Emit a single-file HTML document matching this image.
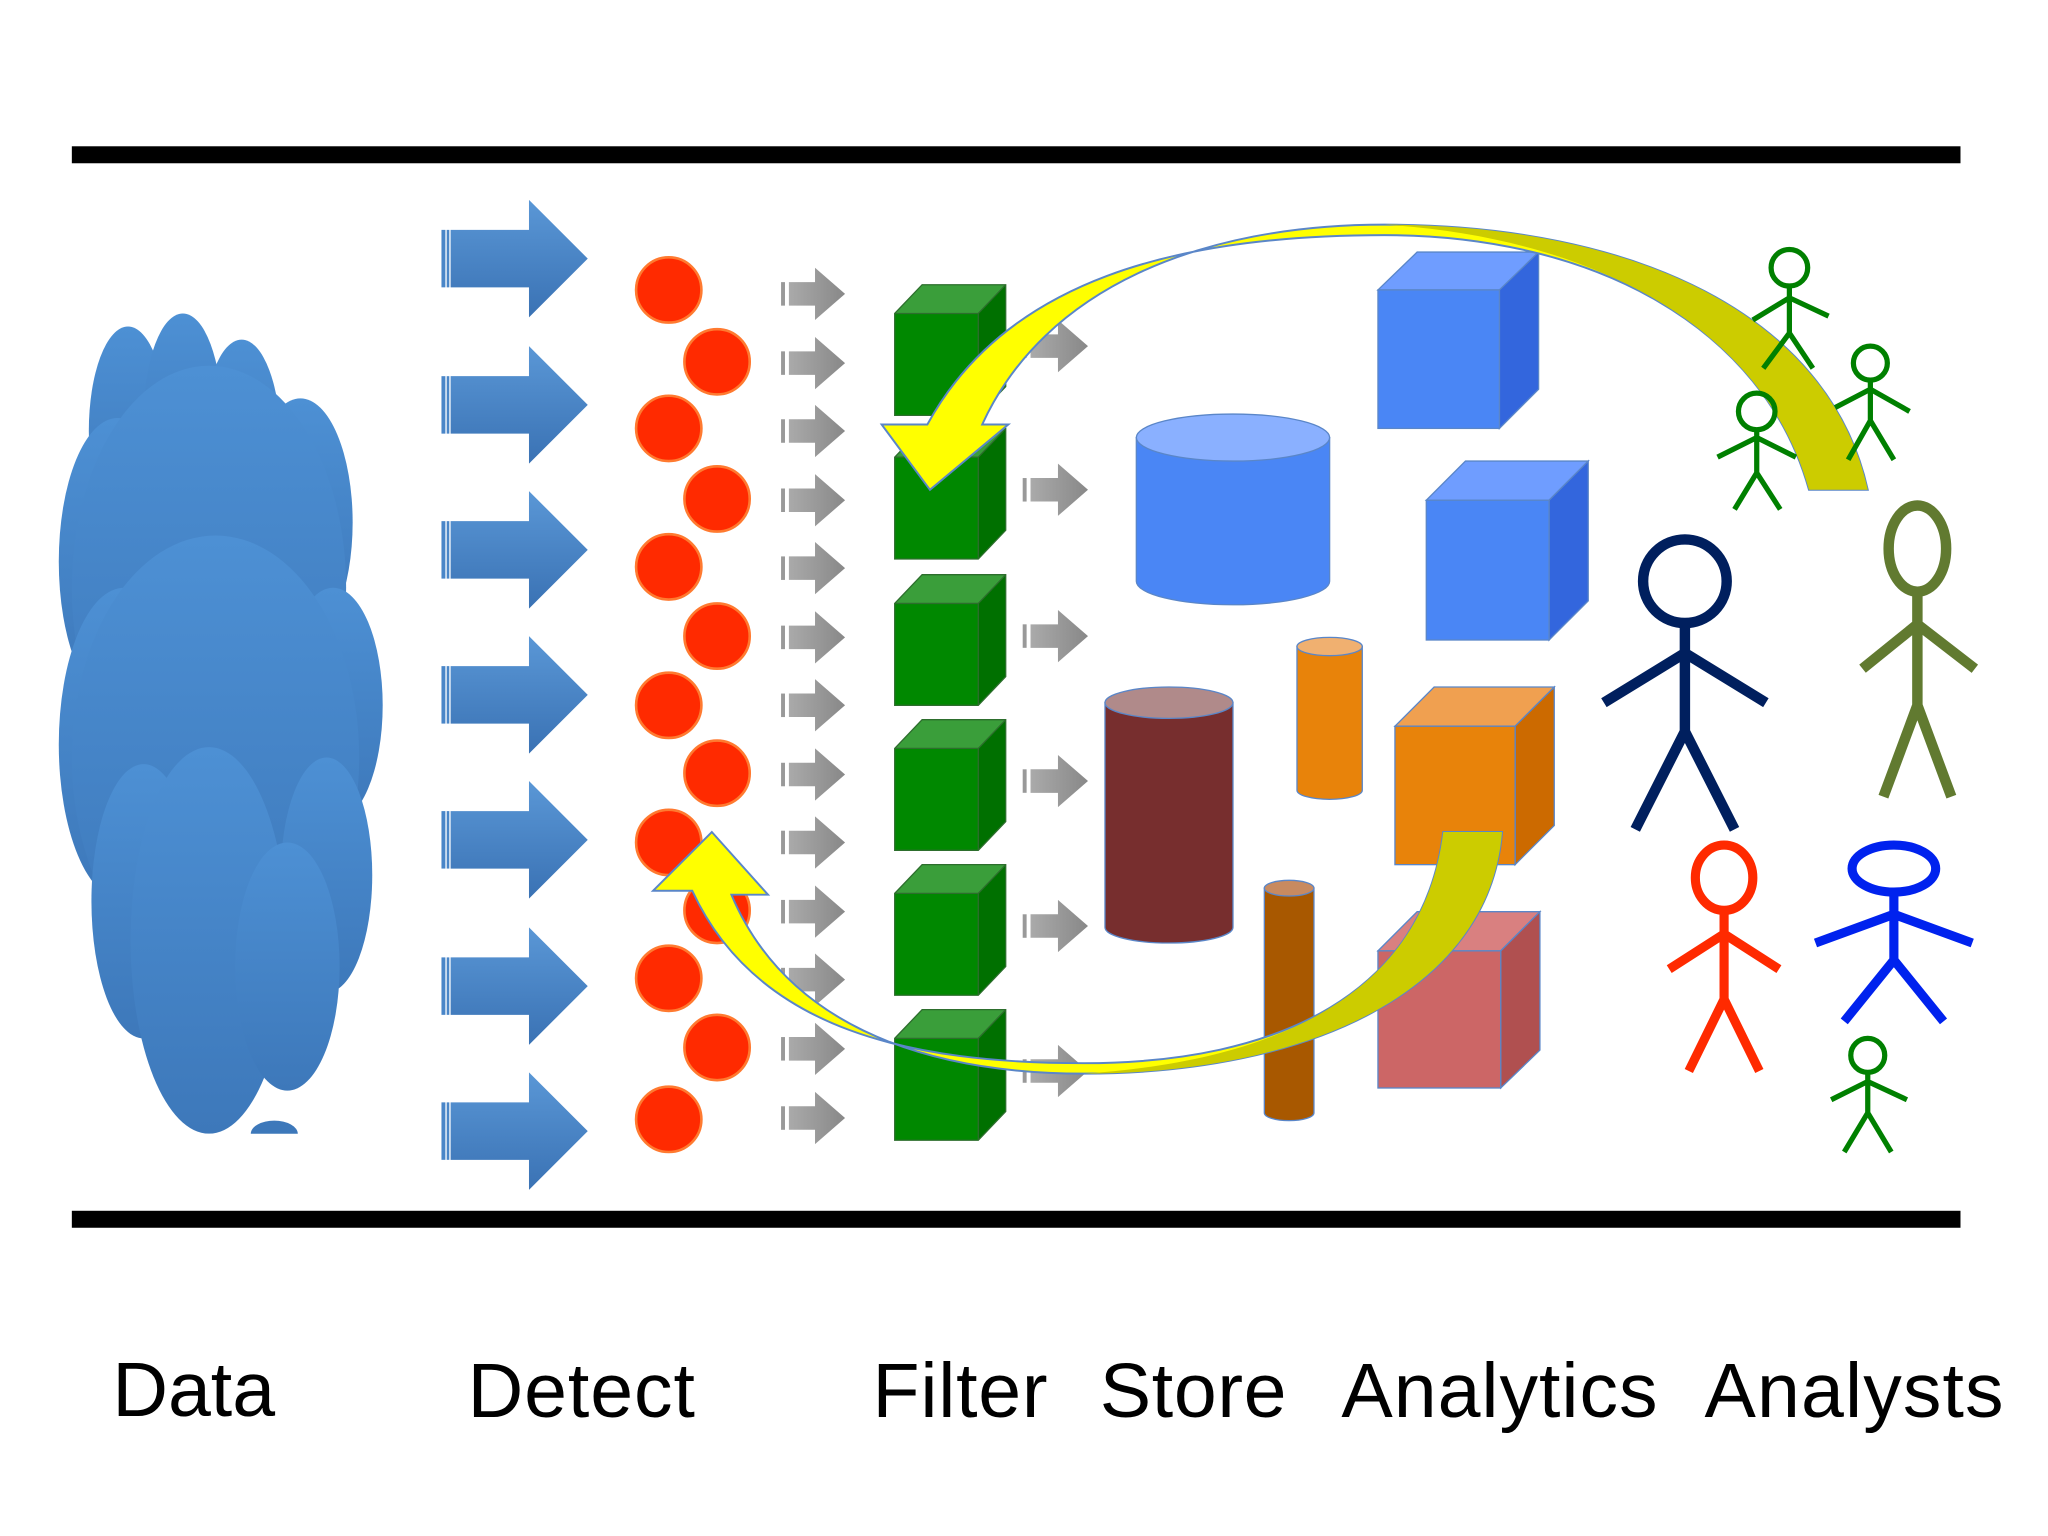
<!DOCTYPE html>
<html><head><meta charset="utf-8"><style>
html,body{margin:0;padding:0;background:#fff;}
svg{display:block;}
text{font-family:"Liberation Sans",sans-serif;}
</style></head><body>
<svg width="2048" height="1536" viewBox="0 0 1568 1176" xmlns="http://www.w3.org/2000/svg">
<defs>
<linearGradient id="ba" x1="0" y1="0" x2="0" y2="1"><stop offset="0" stop-color="#5a97d6"/><stop offset="1" stop-color="#3a72b4"/></linearGradient>
<linearGradient id="ga" x1="0" y1="0" x2="1" y2="0"><stop offset="0" stop-color="#aaa"/><stop offset="1" stop-color="#888"/></linearGradient>
<linearGradient id="cl" x1="0" y1="0" x2="0" y2="1"><stop offset="0" stop-color="#4d90d4"/><stop offset="1" stop-color="#3d78ba"/></linearGradient>
<g id="bar"><path d="M345 -22 H405 V-45 L450 0 L405 45 V22 H345 Z" fill="url(#ba)"/><rect x="338" y="-22" width="3" height="44" fill="#4a86c8"/><rect x="342" y="-22" width="2" height="44" fill="#4a86c8"/></g>
<g id="sa"><path d="M604 -9 H624 V-20 L647 0 L624 20 V9 H604 Z" fill="url(#ga)"/><rect x="598" y="-9" width="3" height="18" fill="#999"/></g>
<g id="sa2"><path d="M789 -9 H810 V-20 L833 0 L810 20 V9 H789 Z" fill="url(#ga)"/><rect x="783" y="-9" width="3" height="18" fill="#999"/></g>
<g id="gc"><path d="M685 22 L706 0 H770 L749 22 Z" fill="#3a9e3a"/><path d="M749 22 L770 0 V78 L749 100 Z" fill="#007000"/><rect x="685" y="22" width="64" height="78" fill="#008800"/><path d="M685 22 L706 0 H770 V78 L749 100 H685 Z M685 22 H749 V100 M749 22 L770 0" fill="none" stroke="#2d6e2d" stroke-width="1"/></g>
<circle id="rc" r="25" fill="#ff2a00" stroke="#ff7a30" stroke-width="2"/>
</defs>
<rect width="1568" height="1176" fill="#fff"/>
<!-- cloud -->
<g fill="url(#cl)">
<ellipse cx="98" cy="330" rx="30" ry="80"/><ellipse cx="140" cy="320" rx="30" ry="80"/><ellipse cx="185" cy="340" rx="30" ry="80"/>
<ellipse cx="230" cy="400" rx="40" ry="95"/><ellipse cx="90" cy="430" rx="45" ry="110"/><ellipse cx="160" cy="450" rx="105" ry="170"/>
<ellipse cx="255" cy="540" rx="38" ry="90"/><ellipse cx="95" cy="570" rx="50" ry="120"/><ellipse cx="165" cy="580" rx="110" ry="170"/>
<ellipse cx="250" cy="670" rx="35" ry="90"/><ellipse cx="110" cy="690" rx="40" ry="105"/><ellipse cx="160" cy="720" rx="60" ry="148"/><ellipse cx="220" cy="740" rx="40" ry="95"/>
</g>
<rect x="40" y="868" width="260" height="55" fill="#fff"/>
<path d="M192 868 A18 10 0 0 1 228 868 Z" fill="#3d78ba"/>
<rect x="55" y="112" width="1446" height="13" fill="#000"/>
<rect x="55" y="927" width="1446" height="13" fill="#000"/>
<!-- blue arrows -->
<use href="#bar" y="198"/><use href="#bar" y="310"/><use href="#bar" y="421"/><use href="#bar" y="532"/><use href="#bar" y="643"/><use href="#bar" y="755"/><use href="#bar" y="866"/>
<!-- red circles -->
<use href="#rc" x="512" y="222"/><use href="#rc" x="549" y="277"/><use href="#rc" x="512" y="328"/><use href="#rc" x="549" y="382"/><use href="#rc" x="512" y="434"/><use href="#rc" x="549" y="487"/><use href="#rc" x="512" y="540"/><use href="#rc" x="549" y="592"/><use href="#rc" x="512" y="645"/><use href="#rc" x="549" y="697"/><use href="#rc" x="512" y="749"/><use href="#rc" x="549" y="802"/><use href="#rc" x="512" y="857"/>
<!-- small arrows -->
<use href="#sa" y="225"/><use href="#sa" y="278"/><use href="#sa" y="330"/><use href="#sa" y="383"/><use href="#sa" y="435"/><use href="#sa" y="488"/><use href="#sa" y="540"/><use href="#sa" y="593"/><use href="#sa" y="645"/><use href="#sa" y="698"/><use href="#sa" y="750"/><use href="#sa" y="803"/><use href="#sa" y="856"/>
<!-- green cubes -->
<use href="#gc" y="218"/><use href="#gc" y="328"/><use href="#gc" y="440"/><use href="#gc" y="551"/><use href="#gc" y="662"/><use href="#gc" y="773"/>
<use href="#sa2" y="265"/><use href="#sa2" y="375"/><use href="#sa2" y="487"/><use href="#sa2" y="598"/><use href="#sa2" y="709"/><use href="#sa2" y="820"/>
<!-- blue cylinder -->
<path d="M870 335 V445 A74 18 0 0 0 1018 445 V335 Z" fill="#4a86f5" stroke="#5a86c8"/>
<ellipse cx="944" cy="335" rx="74" ry="18" fill="#8ab0ff" stroke="#5a86c8"/>
<!-- blue cubes -->
<g stroke="#5a86c8"><path d="M1055 222 L1085 193 H1178 L1148 222 Z" fill="#6f9dff"/><path d="M1148 222 L1178 193 V298 L1148 328 Z" fill="#3366dd"/><rect x="1055" y="222" width="93" height="106" fill="#4a86f5"/></g>
<g stroke="#5a86c8"><path d="M1092 383 L1122 353 H1216 L1186 383 Z" fill="#6f9dff"/><path d="M1186 383 L1216 353 V460 L1186 490 Z" fill="#3366dd"/><rect x="1092" y="383" width="94" height="107" fill="#4a86f5"/></g>
<!-- orange cylinder -->
<path d="M993 495 V605 A25 7 0 0 0 1043 605 V495 Z" fill="#e8830a" stroke="#5a86c8"/>
<ellipse cx="1018" cy="495" rx="25" ry="7" fill="#f0b070" stroke="#5a86c8"/>
<!-- brown cylinder -->
<path d="M846 538 V710 A49 12 0 0 0 944 710 V538 Z" fill="#772e2e" stroke="#5a86c8"/>
<ellipse cx="895" cy="538" rx="49" ry="12" fill="#b08a8a" stroke="#5a86c8"/>
<!-- orange cube -->
<g stroke="#5a86c8"><path d="M1068 556 L1098 526 H1190 L1160 556 Z" fill="#f0a050"/><path d="M1160 556 L1190 526 V632 L1160 662 Z" fill="#cc6a00"/><rect x="1068" y="556" width="92" height="106" fill="#e8830a"/></g>
<!-- thin brown cylinder -->
<path d="M968 680 V852 A19 6 0 0 0 1006 852 V680 Z" fill="#a85800" stroke="#5a86c8"/>
<ellipse cx="987" cy="680" rx="19" ry="6" fill="#c88a60" stroke="#5a86c8"/>
<!-- pink cube -->
<g stroke="#5a86c8"><path d="M1055 728 L1085 698 H1179 L1149 728 Z" fill="#d98080"/><path d="M1149 728 L1179 698 V804 L1149 833 Z" fill="#b05050"/><rect x="1055" y="728" width="94" height="105" fill="#cc6666"/></g>
<!-- yellow arrows -->
<path d="M1430 375 C1400 240 1250 172 1060 172 C920 172 800 220 752 325 L772 325 L712 375 L675 325 L710 325 C770 215 900 180 1060 180 C1220 180 1350 250 1385 375 Z" fill="#ffff00" stroke="#5a86c8" stroke-width="1.5"/>
<path d="M1150 637 C1140 760 1000 822 830 822 C700 822 600 780 560 685 L588 685 L545 637 L500 682 L530 682 C580 790 700 814 830 814 C980 814 1090 760 1105 637 Z" fill="#ffff00" stroke="#5a86c8" stroke-width="1.5"/>
<path d="M1430 375 C1400 240 1250 172 1060 172 C1220 182 1350 250 1385 375 Z" fill="#cccc00"/>
<path d="M1150 637 C1140 760 1000 822 830 822 C980 812 1090 760 1105 637 Z" fill="#cccc00"/>
<!-- stick figures -->
<g fill="none" stroke-width="4" stroke="#008000">
<circle cx="1370" cy="205" r="14"/><path d="M1370 219 V255 M1342 245 L1370 228 L1400 242 M1350 282 L1370 255 L1388 282"/>
<circle cx="1432" cy="278" r="13"/><path d="M1432 291 V322 M1405 312 L1432 298 L1462 315 M1415 352 L1432 322 L1450 352"/>
<circle cx="1345" cy="315" r="14"/><path d="M1345 329 V362 M1315 350 L1345 335 L1375 350 M1328 390 L1345 362 L1363 390"/>
<circle cx="1430" cy="808" r="13"/><path d="M1430 821 V852 M1402 842 L1430 828 L1460 842 M1412 882 L1430 852 L1448 882"/>
</g>
<g fill="none" stroke-width="8" stroke="#001f5e"><circle cx="1290" cy="445" r="32"/><path d="M1290 477 V560 M1228 538 L1290 500 L1352 538 M1252 635 L1290 560 L1328 635"/></g>
<g fill="none" stroke-width="8" stroke="#617a30"><ellipse cx="1468" cy="420" rx="22" ry="33"/><path d="M1468 453 V540 M1426 512 L1468 478 L1512 512 M1442 610 L1468 540 L1494 610"/></g>
<g fill="none" stroke-width="7" stroke="#ff2a00"><ellipse cx="1320" cy="672" rx="22" ry="25"/><path d="M1320 697 V765 M1278 742 L1320 715 L1362 742 M1293 820 L1320 765 L1347 820"/></g>
<g fill="none" stroke-width="7" stroke="#0022ee"><ellipse cx="1450" cy="665" rx="32" ry="18"/><path d="M1450 683 V735 M1390 722 L1450 700 L1510 722 M1412 782 L1450 735 L1488 782"/></g>
<!-- labels -->
<g font-size="59" fill="#000">
<text x="86" y="1084">Data</text>
<text x="358" y="1085" textLength="174">Detect</text>
<text x="668" y="1085" textLength="134">Filter</text>
<text x="842" y="1085" textLength="143">Store</text>
<text x="1027" y="1085" textLength="242">Analytics</text>
<text x="1305" y="1085" textLength="229">Analysts</text>
</g>
</svg>
</body></html>
